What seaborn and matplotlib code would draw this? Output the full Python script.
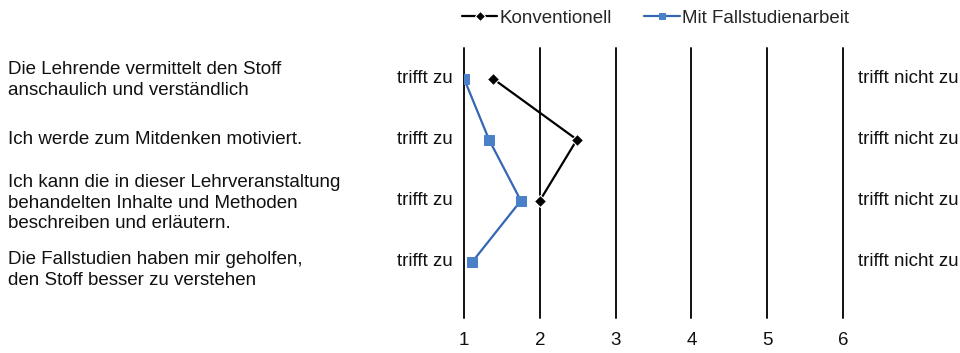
import matplotlib
matplotlib.use("Agg")
import matplotlib.pyplot as plt
import matplotlib.transforms as mtransforms
import seaborn as sns
import pandas as pd

statements = [
    "Die Lehrende vermittelt den Stoff\nanschaulich und verständlich",
    "Ich werde zum Mitdenken motiviert.",
    "Ich kann die in dieser Lehrveranstaltung\nbehandelten Inhalte und Methoden\nbeschreiben und erläutern.",
    "Die Fallstudien haben mir geholfen,\nden Stoff besser zu verstehen",
]
row_pos = [1, 2, 3, 4]
konventionell = [1.38, 2.49, 2.0]
fallstudien = [1.0, 1.33, 1.75, 1.11]
scale_ticks = [1, 2, 3, 4, 5, 6]
left_anchor = "trifft zu"
right_anchor = "trifft nicht zu"
series_names = ["Konventionell", "Mit Fallstudienarbeit"]

df = pd.concat([
    pd.DataFrame({"wert": konventionell, "pos": row_pos[:len(konventionell)], "serie": series_names[0]}),
    pd.DataFrame({"wert": fallstudien, "pos": row_pos[:len(fallstudien)], "serie": series_names[1]}),
], ignore_index=True)

sns.set_theme(style="white")
plt.rcParams["font.family"] = ["Liberation Sans", "DejaVu Sans"]
FS = 13.5

fig = plt.figure(figsize=(9.6, 3.53), dpi=100)
ax = fig.add_axes([464 / 960, 1 - 318 / 353, 379 / 960, (318 - 48) / 353])

palette = {series_names[0]: "#000000", series_names[1]: "#3566b5"}
sns.lineplot(data=df, x="wert", y="pos", hue="serie", style="serie",
             markers={series_names[0]: "D", series_names[1]: "s"},
             dashes=False, sort=False, orient="y", palette=palette,
             linewidth=1.6, markersize=6.5, ax=ax)
for line in ax.lines:
    if line.get_color() == "#3566b5":
        line.set_markerfacecolor("#4a80c8")
        line.set_markeredgecolor("#4a80c8")
    line.set_zorder(5)

ax.set_xlim(scale_ticks[0], scale_ticks[-1])
ax.set_ylim(4.92, 0.5)
ax.set_xticks(scale_ticks)
ax.set_xticklabels([str(t) for t in scale_ticks], fontsize=FS, color="#111111")
ax.tick_params(axis="x", length=0, pad=10)
ax.set_yticks([])
ax.set_xlabel("")
ax.set_ylabel("")
for s in ax.spines.values():
    s.set_visible(False)
ax.grid(axis="x", color="#111111", linewidth=1.4)
ax.grid(axis="y", visible=False)
for gl in ax.xaxis.get_gridlines():
    gl.set_clip_on(False)

trans = mtransforms.blended_transform_factory(fig.transFigure, ax.transData)
trans_ax = mtransforms.blended_transform_factory(ax.transAxes, ax.transData)
offsets = [0.02, 0, 0.04, 0.13]
for txt, p, off in zip(statements, row_pos, offsets):
    fig.text(8 / 960, p + off, txt, transform=trans, ha="left", va="center",
             fontsize=FS, color="#111111", linespacing=1.28)
    ax.text(-0.03, p, left_anchor, transform=trans_ax, ha="right", va="center",
            fontsize=FS, color="#111111")
    ax.text(1.04, p, right_anchor, transform=trans_ax, ha="left", va="center",
            fontsize=FS, color="#111111")

handles, labels = ax.get_legend_handles_labels()
for h in handles:
    h.set_markersize(5)
ax.legend(handles, labels, loc="center", bbox_to_anchor=(0.505, 1.11), ncol=2,
          frameon=False, fontsize=FS, handlelength=1.9, handletextpad=0.1,
          columnspacing=1.75, borderaxespad=0)

fig.savefig("out.png", dpi=100, facecolor="white")
